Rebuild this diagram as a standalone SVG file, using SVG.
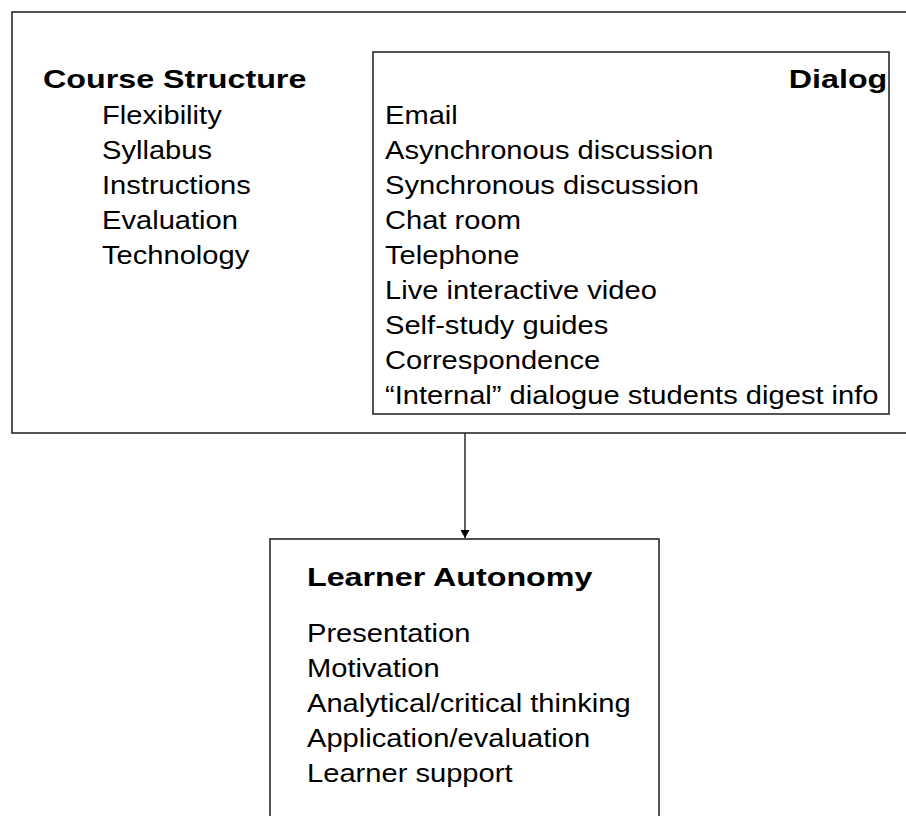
<svg xmlns="http://www.w3.org/2000/svg" width="906" height="816" viewBox="0 0 906 816">
<style>
.box{fill:none;stroke:#2a2a2a;stroke-width:1.6}
.h{font-family:"Liberation Sans",Arial,sans-serif;font-weight:bold;font-size:25px;fill:#000}
.t{font-family:"Liberation Sans",Arial,sans-serif;font-size:26px;fill:#000}
.c{fill:none;stroke:#2a2a2a;stroke-width:1.5}
</style>
<defs>
<marker id="arr" viewBox="0 0 8 9" refX="8" refY="4.5" markerWidth="8" markerHeight="9" markerUnits="userSpaceOnUse" orient="auto">
<path d="M0,0 L8,4.5 L0,9 Z" fill="#000"/>
</marker>
</defs>
<rect width="906" height="816" fill="#fff"/>
<g id="course-structure">
<rect class="box" x="12" y="12" width="900" height="421"/>
<text class="h" transform="translate(43,88) scale(1.29,1)">Course Structure</text>
<text class="t" transform="translate(102,124) scale(1.12,1)">Flexibility</text>
<text class="t" transform="translate(102,159) scale(1.12,1)">Syllabus</text>
<text class="t" transform="translate(102,194) scale(1.12,1)">Instructions</text>
<text class="t" transform="translate(102,229) scale(1.12,1)">Evaluation</text>
<text class="t" transform="translate(102,264) scale(1.12,1)">Technology</text>
</g>
<g id="dialog">
<rect class="box" x="373" y="52" width="516" height="362"/>
<text class="h" text-anchor="middle" transform="translate(838,88) scale(1.29,1)">Dialog</text>
<text class="t" transform="translate(385,124) scale(1.12,1)">Email</text>
<text class="t" transform="translate(385,159) scale(1.12,1)">Asynchronous discussion</text>
<text class="t" transform="translate(385,194) scale(1.12,1)">Synchronous discussion</text>
<text class="t" transform="translate(385,229) scale(1.12,1)">Chat room</text>
<text class="t" transform="translate(385,264) scale(1.12,1)">Telephone</text>
<text class="t" transform="translate(385,299) scale(1.12,1)">Live interactive video</text>
<text class="t" transform="translate(385,334) scale(1.12,1)">Self-study guides</text>
<text class="t" transform="translate(385,369) scale(1.12,1)">Correspondence</text>
<text class="t" transform="translate(385,404) scale(1.12,1)">“Internal” dialogue students digest info</text>
</g>
<g id="learner-autonomy">
<rect class="box" x="270" y="539" width="389" height="290"/>
<text class="h" transform="translate(307,586) scale(1.29,1)">Learner Autonomy</text>
<text class="t" transform="translate(307,642) scale(1.12,1)">Presentation</text>
<text class="t" transform="translate(307,677) scale(1.12,1)">Motivation</text>
<text class="t" transform="translate(307,712) scale(1.12,1)">Analytical/critical thinking</text>
<text class="t" transform="translate(307,747) scale(1.12,1)">Application/evaluation</text>
<text class="t" transform="translate(307,782) scale(1.12,1)">Learner support</text>
</g>
<g id="connectors">
<line class="c" x1="465" y1="433" x2="465" y2="538" marker-end="url(#arr)"/>
</g>
</svg>
